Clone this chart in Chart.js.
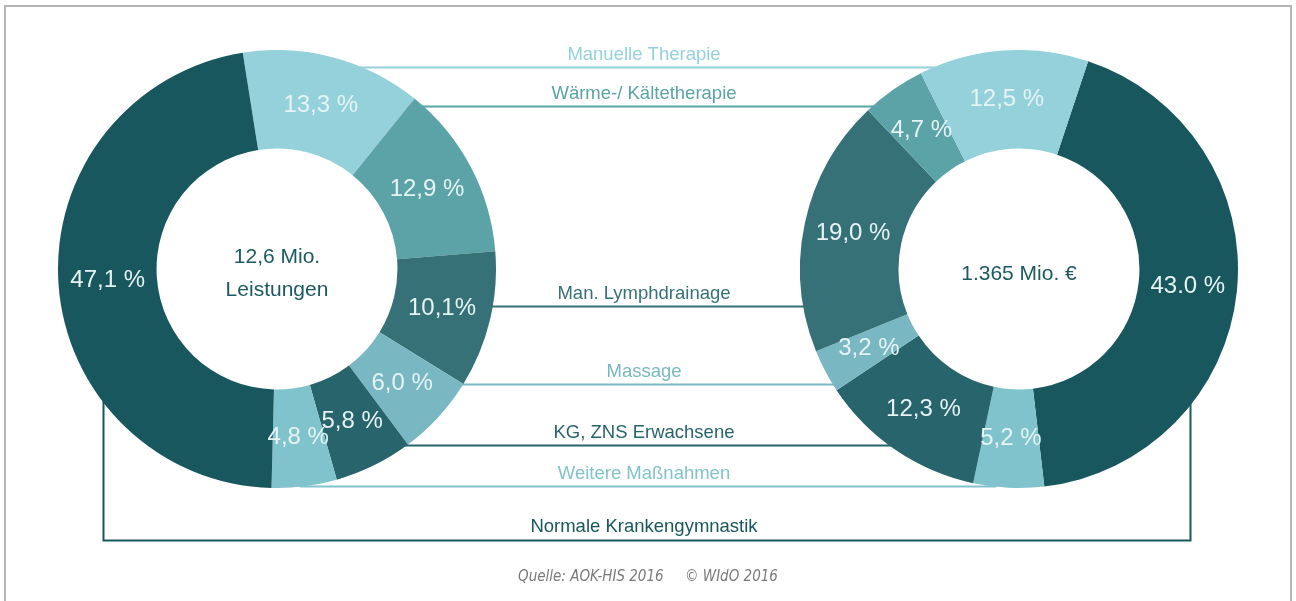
<!DOCTYPE html>
<html>
<head>
<meta charset="utf-8">
<script src="https://cdn.jsdelivr.net/npm/chart.js@4"></script>
<style>
  body { margin: 0; background: #fff; }
  #wrap { position: relative; width: 1296px; height: 601px; overflow: hidden; }
  #frame { position: absolute; left: 4px; top: 5px; width: 1284px; height: 640px; border: 2px solid #b4b4b4; }
  canvas { position: absolute; }
  #lines { left: 0; top: 0; }
  #left { left: 58px; top: 50px; }
  #right { left: 800px; top: 50px; }
  #quelle { position: absolute; top: 567px; left: 0; width: 1296px; text-align: center; white-space: pre;
            font: italic 15px 'Liberation Sans Narrow', 'DejaVu Sans Condensed', sans-serif; color: #7a7a7a; }
</style>
</head>
<body>
<div id="wrap">
  <div id="frame"></div>
  <canvas id="lines" width="1296" height="601"></canvas>
  <canvas id="left" width="438" height="438"></canvas>
  <canvas id="right" width="438" height="438"></canvas>
  <div id="quelle">Quelle: AOK-HIS 2016     © WIdO 2016</div>
</div>
<script>
// Kategorien (gleiche Reihenfolge in beiden Arrays)
var categories = ["Manuelle Therapie", "Wärme-/ Kältetherapie", "Man. Lymphdrainage", "Massage",
                  "KG, ZNS Erwachsene", "Weitere Maßnahmen", "Normale Krankengymnastik"];
// Anteile an den Leistungen (12,6 Mio.)
var leistungen = [13.3, 12.9, 10.1, 6.0, 5.8, 4.8, 47.1];
var leistungenText = ["13,3 %", "12,9 %", "10,1%", "6,0 %", "5,8 %", "4,8 %", "47,1 %"];
// Anteile an den Ausgaben (1.365 Mio. €)
var ausgaben = [12.5, 4.7, 19.0, 3.2, 12.3, 5.2, 43.0];
var ausgabenText = ["12,5 %", "4,7 %", "19,0 %", "3,2 %", "12,3 %", "5,2 %", "43.0 %"];

var colors = ["#94d1db", "#5ba3a7", "#377178", "#79b8c2", "#27646b", "#81c3cc", "#18575d"];

// Lage der Verbindungslinien, in Radien relativ zur Kreismitte
var rows = [-0.922, -0.744, 0.169, 0.525, 0.804, 0.99];
var bracket = { xl: -0.795, xr: 0.781, y: 1.237 };

var labelPlugin = {
  id: 'labels',
  afterDatasetsDraw: function(chart, args, opts) {
    var ctx = chart.ctx;
    var arcs = chart.getDatasetMeta(0).data;
    ctx.save();
    ctx.font = '24px "Liberation Sans", Arial, sans-serif';
    ctx.fillStyle = '#e6f3f4';
    ctx.textAlign = 'center';
    ctx.textBaseline = 'middle';
    arcs.forEach(function(arc, i) {
      var p = arc.getCenterPoint();
      ctx.fillText(opts.texts[i], p.x, p.y);
    });
    // Text in der Mitte
    var c = arcs[0];
    ctx.font = '21px "Liberation Sans", Arial, sans-serif';
    ctx.fillStyle = '#1a5a60';
    var lines = opts.center;
    var lh = 33;
    lines.forEach(function(t, j) {
      ctx.fillText(t, c.x, c.y + (j - (lines.length - 1) / 2) * lh + 5);
    });
    ctx.restore();
  }
};

function makeChart(id, data, cols, texts, center, rotation) {
  return new Chart(document.getElementById(id), {
    type: 'doughnut',
    data: {
      labels: data.labels,
      datasets: [{ data: data.values, backgroundColor: cols, borderWidth: 0 }]
    },
    options: {
      responsive: false,
      animation: false,
      cutout: '55%',
      rotation: rotation,
      layout: { padding: 0 },
      plugins: {
        legend: { display: false },
        tooltip: { enabled: false },
        labels: { texts: texts, center: center }
      }
    },
    plugins: [labelPlugin]
  });
}

var chartL = makeChart('left', { labels: categories, values: leistungen }, colors, leistungenText,
                       ["12,6 Mio.", "Leistungen"], -9);
var chartR = makeChart('right', { labels: categories.slice().reverse(), values: ausgaben.slice().reverse() },
                       colors.slice().reverse(), ausgabenText.slice().reverse(), ["1.365 Mio. €"], 18.4);

// Verbindungslinien
(function() {
  var ctx = document.getElementById('lines').getContext('2d');
  var a = chartL.getDatasetMeta(0).data[0];
  var b = chartR.getDatasetMeta(0).data[0];
  var L = { x: 58 + a.x, y: 50 + a.y, r: a.outerRadius };
  var R = { x: 800 + b.x, y: 50 + b.y, r: b.outerRadius };
  var midX = (L.x + R.x) / 2 - 4;
  function half(c, y) { var d = y - c.y; return Math.sqrt(Math.max(c.r * c.r - d * d, 0)); }
  ctx.lineWidth = 2;
  ctx.font = '18.5px "Liberation Sans", Arial, sans-serif';
  ctx.textAlign = 'center';
  ctx.textBaseline = 'alphabetic';
  rows.forEach(function(k, i) {
    var y = Math.round(L.y + k * L.r) + 0.5;
    ctx.strokeStyle = colors[i];
    ctx.beginPath();
    ctx.moveTo(L.x + half(L, y) - 3, y);
    ctx.lineTo(R.x - half(R, y) + 3, y);
    ctx.stroke();
    ctx.fillStyle = colors[i];
    ctx.fillText(categories[i], midX, y - 8);
  });
  // Klammer für Normale Krankengymnastik
  var n = categories.length - 1;
  var xl = Math.round(L.x + bracket.xl * L.r) + 0.5;
  var xr = Math.round(R.x + bracket.xr * R.r) + 0.5;
  var yb = Math.round(L.y + bracket.y * L.r) + 0.5;
  ctx.strokeStyle = colors[n];
  ctx.beginPath();
  ctx.moveTo(xl, L.y + Math.sqrt(L.r * L.r - Math.pow(xl - L.x, 2)) - 3);
  ctx.lineTo(xl, yb);
  ctx.lineTo(xr, yb);
  ctx.lineTo(xr, R.y + Math.sqrt(R.r * R.r - Math.pow(xr - R.x, 2)) - 3);
  ctx.stroke();
  ctx.fillStyle = colors[n];
  ctx.fillText(categories[n], midX, yb - 9);
})();
</script>
</body>
</html>
